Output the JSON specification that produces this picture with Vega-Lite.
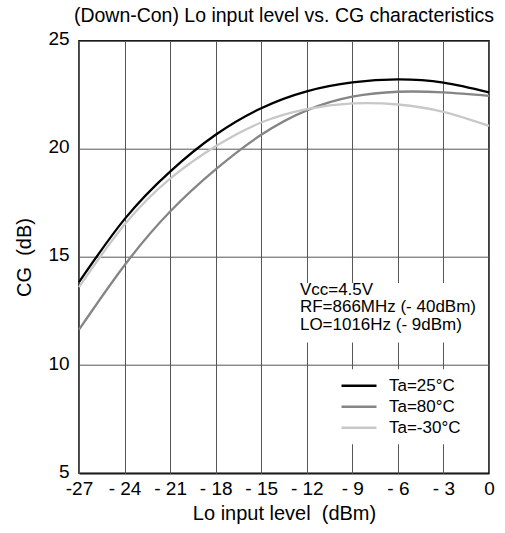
{
  "$schema": "https://vega.github.io/schema/vega-lite/v6.json",
  "width": 410,
  "height": 432.6,
  "autosize": {"type": "none"},
  "padding": {"left": 79, "top": 40.7, "right": 16, "bottom": 60},
  "background": "white",
  "config": {
    "font": "Liberation Sans",
    "view": {"stroke": "#000", "strokeWidth": 1.5},
    "axis": {
      "domain": false,
      "ticks": false,
      "grid": true,
      "gridColor": "#555",
      "gridWidth": 1,
      "gridOpacity": 1,
      "labelColor": "#000",
      "labelFontSize": 19,
      "labelFlush": false,
      "titleColor": "#000",
      "titleFontSize": 20,
      "titleFontWeight": "normal"
    }
  },
  "title": {
    "text": "(Down-Con) Lo input level vs. CG characteristics",
    "fontSize": 19.5,
    "fontWeight": "normal",
    "color": "#000",
    "anchor": "middle",
    "frame": "group",
    "offset": 3
  },
  "datasets": {
    "cg": [
      {"lo": -27, "cg": 13.84, "ta": "Ta=25°C"},
      {"lo": -24, "cg": 16.75, "ta": "Ta=25°C"},
      {"lo": -21, "cg": 18.95, "ta": "Ta=25°C"},
      {"lo": -18, "cg": 20.65, "ta": "Ta=25°C"},
      {"lo": -15, "cg": 21.88, "ta": "Ta=25°C"},
      {"lo": -12, "cg": 22.66, "ta": "Ta=25°C"},
      {"lo": -9, "cg": 23.07, "ta": "Ta=25°C"},
      {"lo": -6, "cg": 23.21, "ta": "Ta=25°C"},
      {"lo": -3, "cg": 23.06, "ta": "Ta=25°C"},
      {"lo": 0, "cg": 22.61, "ta": "Ta=25°C"},
      {"lo": -27, "cg": 11.64, "ta": "Ta=80°C"},
      {"lo": -24, "cg": 14.62, "ta": "Ta=80°C"},
      {"lo": -21, "cg": 17.10, "ta": "Ta=80°C"},
      {"lo": -18, "cg": 19.05, "ta": "Ta=80°C"},
      {"lo": -15, "cg": 20.65, "ta": "Ta=80°C"},
      {"lo": -12, "cg": 21.78, "ta": "Ta=80°C"},
      {"lo": -9, "cg": 22.41, "ta": "Ta=80°C"},
      {"lo": -6, "cg": 22.64, "ta": "Ta=80°C"},
      {"lo": -3, "cg": 22.61, "ta": "Ta=80°C"},
      {"lo": 0, "cg": 22.45, "ta": "Ta=80°C"},
      {"lo": -27, "cg": 13.61, "ta": "Ta=-30°C"},
      {"lo": -24, "cg": 16.50, "ta": "Ta=-30°C"},
      {"lo": -21, "cg": 18.62, "ta": "Ta=-30°C"},
      {"lo": -18, "cg": 20.12, "ta": "Ta=-30°C"},
      {"lo": -15, "cg": 21.22, "ta": "Ta=-30°C"},
      {"lo": -12, "cg": 21.84, "ta": "Ta=-30°C"},
      {"lo": -9, "cg": 22.10, "ta": "Ta=-30°C"},
      {"lo": -6, "cg": 22.05, "ta": "Ta=-30°C"},
      {"lo": -3, "cg": 21.71, "ta": "Ta=-30°C"},
      {"lo": 0, "cg": 21.06, "ta": "Ta=-30°C"}
    ]
  },
  "layer": [
    {
      "data": {"name": "cg"},
      "mark": {"type": "line", "interpolate": "natural", "strokeWidth": 2.3},
      "encoding": {
        "x": {
          "field": "lo",
          "type": "quantitative",
          "scale": {"domain": [-27, 0], "nice": false, "zero": false},
          "axis": {
            "title": "Lo input level\u00a0\u00a0(dBm)",
            "values": [-27, -24, -21, -18, -15, -12, -9, -6, -3, 0],
            "labelExpr": "datum.value == 0 ? '0' : datum.value == -27 ? '-27' : '- ' + (-datum.value)",
            "labelPadding": 6,
            "titlePadding": 5
          }
        },
        "y": {
          "field": "cg",
          "type": "quantitative",
          "scale": {"domain": [5, 25], "nice": false, "zero": false},
          "axis": {
            "title": "CG\u00a0\u00a0(dB)",
            "values": [5, 10, 15, 20, 25],
            "labelPadding": 10,
            "labelOffset": -2,
            "titlePadding": 13
          }
        },
        "color": {
          "field": "ta",
          "type": "nominal",
          "scale": {
            "domain": ["Ta=25°C", "Ta=80°C", "Ta=-30°C"],
            "range": ["#000000", "#858585", "#c8c8c8"]
          },
          "legend": {
            "title": null,
            "orient": "none",
            "legendX": 263.5,
            "legendY": 328.5,
            "symbolType": "M-2.5,0H2.5",
            "symbolSize": 196,
            "symbolStrokeWidth": 2.5,
            "labelFontSize": 17,
            "labelColor": "#000",
            "labelOffset": 21.5,
            "fillColor": "white",
            "padding": 8,
            "rowPadding": 3
          }
        }
      }
    },
    {
      "data": {"values": [{}]},
      "mark": {"type": "rect", "fill": "white"},
      "encoding": {
        "x": {"datum": -12.6, "type": "quantitative"},
        "x2": {"datum": -0.5},
        "y": {"datum": 11.05, "type": "quantitative"},
        "y2": {"datum": 13.8}
      }
    },
    {
      "data": {"values": [{"note": ["Vcc=4.5V", "RF=866MHz (- 40dBm)", "LO=1016Hz (- 9dBm)"]}]},
      "mark": {
        "type": "text",
        "align": "left",
        "baseline": "top",
        "fontSize": 17,
        "lineHeight": 17.5,
        "color": "#000"
      },
      "encoding": {
        "x": {"datum": -12.45, "type": "quantitative"},
        "y": {"datum": 13.85, "type": "quantitative"},
        "text": {"field": "note"}
      }
    }
  ]
}
